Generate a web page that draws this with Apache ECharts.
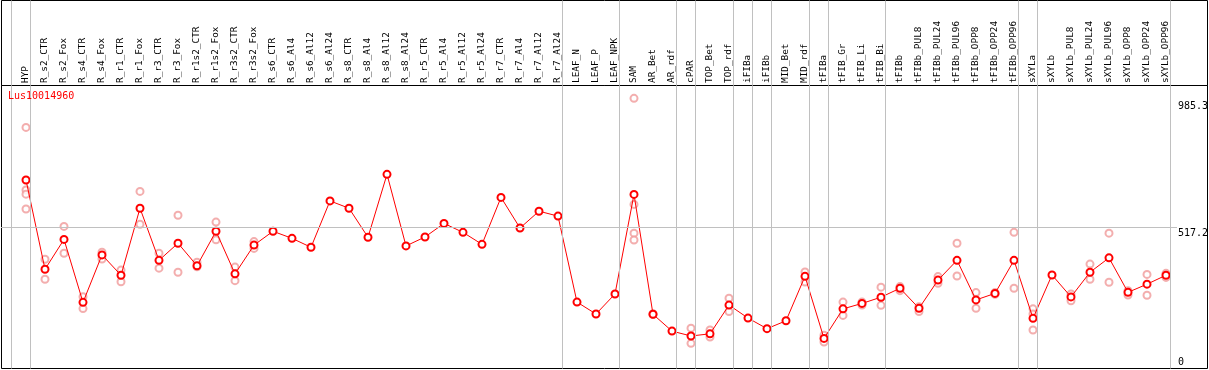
<!DOCTYPE html>
<html>
<head>
<meta charset="utf-8">
<script src="https://cdn.jsdelivr.net/npm/echarts@6/dist/echarts.min.js"></script>
<style>
  html, body { margin: 0; padding: 0; background: #fff; }
  #chart { width: 1209px; height: 370px; }
</style>
</head>
<body>
<div id="chart"></div>
<script>
const GENE = 'Lus10014960';

const CATEGORIES = [
  'HYP', 'R_s2_CTR', 'R_s2_Fox', 'R_s4_CTR', 'R_s4_Fox', 'R_r1_CTR', 'R_r1_Fox', 'R_r3_CTR', 'R_r3_Fox',
  'R_r1s2_CTR', 'R_r1s2_Fox', 'R_r3s2_CTR', 'R_r3s2_Fox',
  'R_s6_CTR', 'R_s6_Al4', 'R_s6_Al12', 'R_s6_Al24', 'R_s8_CTR', 'R_s8_Al4', 'R_s8_Al12', 'R_s8_Al24',
  'R_r5_CTR', 'R_r5_Al4', 'R_r5_Al12', 'R_r5_Al24', 'R_r7_CTR', 'R_r7_Al4', 'R_r7_Al12', 'R_r7_Al24',
  'LEAF_N', 'LEAF_P', 'LEAF_NPK', 'SAM', 'AR_Bet', 'AR_rdf', 'cPAR', 'TOP_Bet', 'TOP_rdf',
  'iFIBa', 'iFIBb', 'MID_Bet', 'MID_rdf', 'tFIBa', 'tFIB_Gr', 'tFIB_Li', 'tFIB_Bi', 'tFIBb',
  'tFIBb_PUL8', 'tFIBb_PUL24', 'tFIBb_PUL96', 'tFIBb_OPP8', 'tFIBb_OPP24', 'tFIBb_OPP96',
  'sXYLa', 'sXYLb', 'sXYLb_PUL8', 'sXYLb_PUL24', 'sXYLb_PUL96', 'sXYLb_OPP8', 'sXYLb_OPP24', 'sXYLb_OPP96'
];

const MEANS = [
  693, 364, 474, 242, 417, 342, 589, 397, 460,
  377, 504, 347, 453,
  504, 478, 445, 616, 589, 482, 714, 450,
  483, 533, 500, 456, 629, 516, 578, 560,
  243, 199, 273, 640, 198, 136, 118, 126, 232,
  184, 145, 174, 338, 109, 218, 238, 261, 294,
  220, 324, 397, 251, 275, 397,
  183, 343, 262, 353, 406, 279, 309, 342
];

const REPLICATES = [
  [887, 656, 641, 586], [401, 327], [522, 423], [263, 219], [427, 402], [361, 318], [651, 530], [423, 368], [563, 353],
  [390, 373], [538, 473], [372, 322], [466, 441],
  [], [], [], [], [], [], [], [],
  [], [], [], [], [], [], [], [],
  [], [], [], [994, 603, 497, 472], [197, 200], [], [147, 91], [140, 114], [257, 208],
  [], [], [], [354, 317], [121, 96], [243, 194], [243, 232], [298, 231], [300, 285],
  [226, 208], [337, 312], [460, 339], [278, 220], [272, 278], [500, 294],
  [218, 199, 140], [], [273, 248], [383, 327], [497, 316], [285, 269], [345, 268], [349, 334]
];

// group separators are drawn just after these category indices
const SEPARATOR_AFTER = [-1, 0, 28, 31, 34, 35, 37, 38, 39, 41, 42, 45, 52, 53, 60];

const Y_TICKS = [0, 517.2, 985.3];
const Y_GRIDLINE = 517.2;
const Y_MAX = 1043.3;

// ---- layout (pixels) ----
const FIRST_PX = 26, STEP_PX = 19, SEP_OFFSET_PX = 4;
const FRAME_LEFT = 1.5, FRAME_RIGHT = 1207.5, PLOT_LEFT = 1, PLOT_RIGHT = 1177;
const LABEL_TOP = 0.5, LABEL_BOTTOM = 85.5, PLOT_TOP = 85, PLOT_BOTTOM = 368, FRAME_BOTTOM = 368.5;
const FONT = 'DejaVu Sans Mono';

const toIdx = px => (px - FIRST_PX) / STEP_PX;
const sepLines = SEPARATOR_AFTER.map(i => ({ xAxis: i + SEP_OFFSET_PX / STEP_PX }));

const meanData = MEANS.map((v, i) => [i, v]);
const repData = [];
REPLICATES.forEach((arr, i) => arr.forEach(v => repData.push([i, v])));

const hiddenX = gi => ({
  gridIndex: gi, type: 'value', min: toIdx(FRAME_LEFT), max: toIdx(FRAME_RIGHT), show: false
});
const hiddenY = gi => ({ gridIndex: gi, type: 'value', min: 0, max: 1, show: false });

const sepMarkLine = {
  silent: true, symbol: 'none', animation: false,
  label: { show: false },
  lineStyle: { color: '#c0c0c0', width: 1, type: 'solid' },
  data: sepLines
};

const option = {
  backgroundColor: '#ffffff',
  animation: false,
  title: {
    text: GENE, left: 8, top: 91, padding: 0,
    textStyle: { color: '#ff0000', fontSize: 10, fontFamily: FONT, fontWeight: 'normal' }
  },
  grid: [
    { left: FRAME_LEFT, top: LABEL_TOP, width: FRAME_RIGHT - FRAME_LEFT, height: LABEL_BOTTOM - LABEL_TOP,
      show: true, borderColor: '#000', borderWidth: 1, backgroundColor: 'transparent', outerBoundsMode: 'none' },
    { left: FRAME_LEFT, top: LABEL_BOTTOM, width: FRAME_RIGHT - FRAME_LEFT, height: FRAME_BOTTOM - LABEL_BOTTOM,
      show: true, borderColor: '#000', borderWidth: 1, backgroundColor: 'transparent', outerBoundsMode: 'none' },
    { left: PLOT_LEFT, top: PLOT_TOP, width: PLOT_RIGHT - PLOT_LEFT, height: PLOT_BOTTOM - PLOT_TOP,
      show: false, outerBoundsMode: 'none' }
  ],
  xAxis: [
    hiddenX(0),
    hiddenX(1),
    {
      gridIndex: 2, type: 'value', position: 'top',
      min: toIdx(PLOT_LEFT), max: toIdx(PLOT_RIGHT),
      axisLine: { show: false }, axisTick: { show: false }, splitLine: { show: false },
      axisLabel: {
        customValues: CATEGORIES.map((_, i) => i),
        formatter: v => CATEGORIES[Math.round(v)] || '',
        rotate: 90, margin: 2, color: '#000', fontSize: 9.4, fontFamily: FONT
      }
    }
  ],
  yAxis: [
    hiddenY(0),
    hiddenY(1),
    {
      gridIndex: 2, type: 'value', position: 'right', min: 0, max: Y_MAX,
      axisLine: { show: false }, axisTick: { show: false }, splitLine: { show: false },
      axisLabel: {
        customValues: Y_TICKS, margin: 1, color: '#000', fontSize: 10, fontFamily: FONT,
        verticalAlign: 'middle',
        formatter: v => (v === 0 ? '{b|' + v + '}' : '{t|' + v + '}'),
        rich: {
          t: { fontSize: 10, fontFamily: FONT, color: '#000', lineHeight: 12, padding: [12, 0, 0, 0] },
          b: { fontSize: 10, fontFamily: FONT, color: '#000', lineHeight: 12, padding: [0, 0, 12, 0] }
        }
      }
    }
  ],
  series: [
    { type: 'line', xAxisIndex: 0, yAxisIndex: 0, data: [], silent: true, markLine: sepMarkLine },
    { type: 'line', xAxisIndex: 1, yAxisIndex: 1, data: [], silent: true, markLine: sepMarkLine },
    {
      name: 'replicates', type: 'scatter', xAxisIndex: 2, yAxisIndex: 2, z: 3,
      data: repData, symbol: 'emptyCircle', symbolSize: 7,
      itemStyle: { color: '#f09a9a', borderColor: '#f09a9a', borderWidth: 1 },
      markLine: {
        silent: true, symbol: 'none', label: { show: false },
        lineStyle: { color: '#c0c0c0', width: 1, type: 'solid' },
        data: [{ yAxis: Y_GRIDLINE }]
      }
    },
    {
      name: 'mean', type: 'line', xAxisIndex: 2, yAxisIndex: 2, z: 4,
      data: meanData, symbol: 'emptyCircle', symbolSize: 7,
      lineStyle: { color: '#ff0000', width: 1 },
      itemStyle: { color: '#ff0000', borderColor: '#ff0000', borderWidth: 1.3 }
    }
  ]
};

const chart = echarts.init(document.getElementById('chart'), null, { renderer: 'canvas' });
chart.setOption(option);
</script>
</body>
</html>
